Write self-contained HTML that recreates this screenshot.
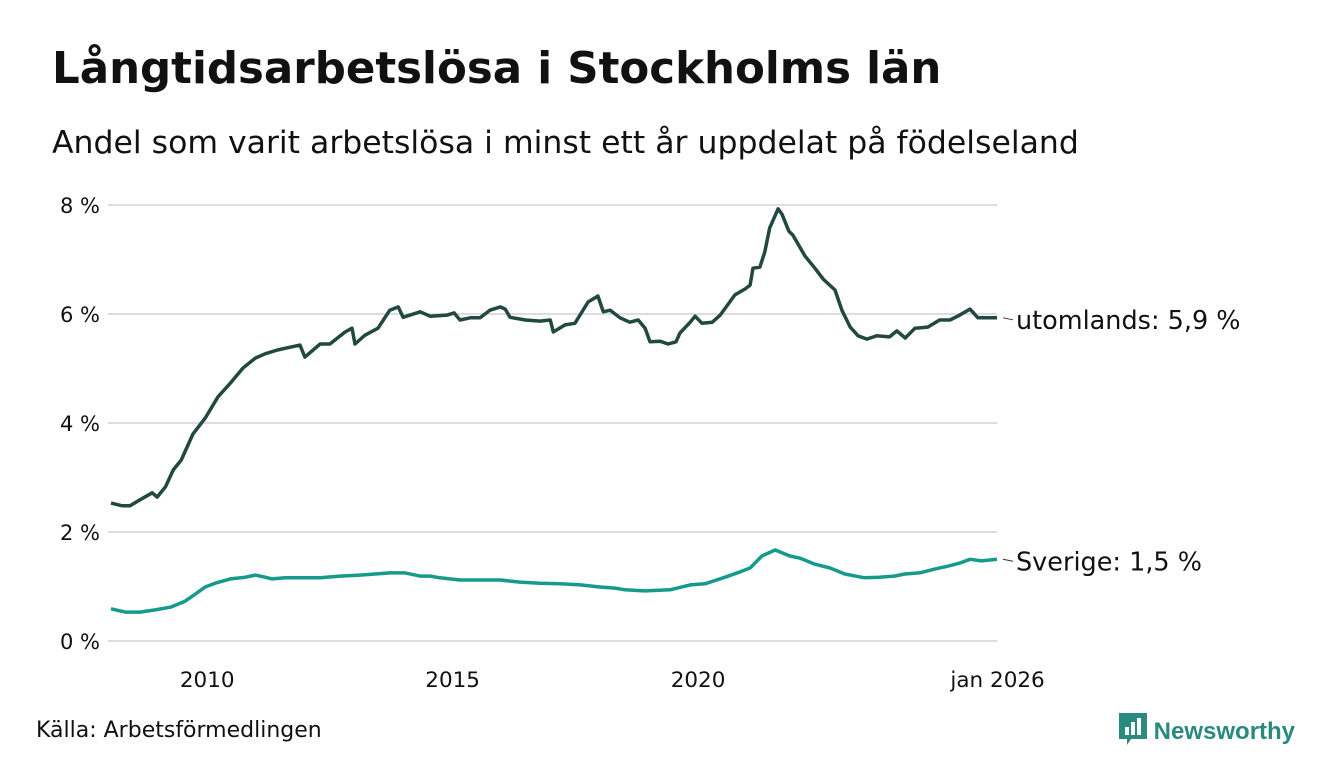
<!DOCTYPE html>
<html><head><meta charset="utf-8"><style>
body{margin:0;width:1340px;height:780px;background:#fff;font-family:"DejaVu Sans","Liberation Sans",sans-serif;overflow:hidden;position:relative}
h1{position:absolute;left:52px;top:44px;margin:0;font-size:43.5px;font-weight:bold;color:#111}
.sub{position:absolute;left:52px;top:125px;font-size:31.5px;color:#111}
.src{position:absolute;left:36px;top:718px;font-size:22px;color:#111}
.logo{position:absolute;left:1119px;top:713px;font-size:24px;font-weight:bold;color:#2a8a7e;font-family:"Liberation Sans",sans-serif}
</style></head><body>
<h1>Långtidsarbetslösa i Stockholms län</h1>
<div class="sub">Andel som varit arbetslösa i minst ett år uppdelat på födelseland</div>
<div class="src">Källa: Arbetsförmedlingen</div>
<div class="logo"><svg width="28" height="32" viewBox="0 0 28 32" style="vertical-align:-6px"><path d="M0 0H28V26H12L8 32V26H0Z" fill="#2a8a7e"/><rect x="6" y="14" width="4" height="8" fill="#fff"/><rect x="12" y="9" width="4" height="13" fill="#fff"/><rect x="18" y="5" width="4" height="17" fill="#fff"/></svg> Newsworthy</div>
<svg id="chart" width="1340" height="780" style="position:absolute;left:0;top:0"></svg>
<script>
const yTicks=[0,2,4,6,8];
const xTicks=[2010,2015,2020,2026];
const xTickLabels=["2010","2015","2020","jan 2026"];
const utDates=[2008.04,2008.27,2008.43,2008.63,2008.88,2008.98,2009.15,2009.31,2009.47,2009.71,2009.96,2010.22,2010.47,2010.73,2010.98,2011.18,2011.43,2011.69,2011.89,2011.99,2012.30,2012.50,2012.81,2012.95,2013.01,2013.21,2013.48,2013.72,2013.89,2013.99,2014.34,2014.54,2014.89,2015.03,2015.15,2015.36,2015.56,2015.76,2015.97,2016.07,2016.17,2016.48,2016.78,2016.99,2017.05,2017.29,2017.49,2017.76,2017.96,2018.07,2018.21,2018.41,2018.61,2018.78,2018.92,2019.02,2019.23,2019.39,2019.55,2019.63,2019.84,2019.94,2020.08,2020.29,2020.45,2020.75,2020.96,2021.06,2021.12,2021.26,2021.36,2021.46,2021.63,2021.71,2021.85,2021.93,2022.18,2022.38,2022.55,2022.79,2022.93,2023.10,2023.26,2023.44,2023.64,2023.90,2024.05,2024.22,2024.42,2024.68,2024.92,2025.13,2025.29,2025.54,2025.70,2025.90,2026.09];
const utValues=[2.53,2.48,2.48,2.59,2.72,2.64,2.83,3.14,3.32,3.80,4.09,4.48,4.73,5.01,5.19,5.27,5.34,5.39,5.43,5.21,5.45,5.45,5.67,5.74,5.45,5.61,5.74,6.07,6.13,5.94,6.04,5.96,5.98,6.02,5.89,5.93,5.93,6.07,6.13,6.09,5.94,5.89,5.87,5.89,5.67,5.80,5.83,6.22,6.33,6.04,6.07,5.93,5.85,5.89,5.74,5.49,5.50,5.45,5.49,5.65,5.85,5.96,5.83,5.85,5.98,6.35,6.46,6.53,6.84,6.86,7.14,7.58,7.93,7.83,7.52,7.45,7.06,6.84,6.64,6.44,6.07,5.76,5.60,5.54,5.60,5.58,5.69,5.56,5.74,5.76,5.89,5.89,5.96,6.09,5.93,5.93,5.93];
const svDates=[2008.04,2008.33,2008.63,2008.94,2009.25,2009.55,2009.76,2009.96,2010.16,2010.47,2010.78,2010.98,2011.18,2011.32,2011.59,2011.89,2012.30,2012.71,2013.11,2013.42,2013.72,2014.03,2014.34,2014.54,2014.74,2015.15,2015.56,2015.97,2016.37,2016.78,2017.19,2017.60,2018.00,2018.31,2018.51,2018.92,2019.43,2019.84,2020.14,2020.55,2020.86,2021.06,2021.30,2021.57,2021.87,2022.08,2022.38,2022.69,2022.99,2023.39,2023.70,2024.00,2024.21,2024.51,2024.82,2025.12,2025.33,2025.54,2025.77,2026.09];
const svValues=[0.59,0.53,0.53,0.57,0.62,0.73,0.86,0.99,1.06,1.14,1.17,1.21,1.17,1.14,1.16,1.16,1.16,1.19,1.21,1.23,1.25,1.25,1.19,1.19,1.16,1.12,1.12,1.12,1.08,1.06,1.05,1.03,0.99,0.97,0.94,0.92,0.94,1.03,1.05,1.17,1.27,1.34,1.56,1.67,1.56,1.52,1.41,1.34,1.23,1.16,1.17,1.19,1.23,1.25,1.32,1.38,1.43,1.50,1.47,1.50];
const NS="http://www.w3.org/2000/svg",svg=document.getElementById('chart');
const x=d=>111+(d-2008.04)*(997-111)/(2026.09-2008.04);
const y=v=>641-v*54.5;
function mk(t,a,p){const e=document.createElementNS(NS,t);for(const k in a)e.setAttribute(k,a[k]);(p||svg).appendChild(e);return e;}
yTicks.forEach(v=>{
 const l=mk('line',{x1:108,x2:997,y1:y(v),y2:y(v),stroke:'#dcdce2','stroke-width':2});
 
 
 const t=mk('text',{x:100,y:y(v)+8,'text-anchor':'end','font-size':21,fill:'#111'});t.textContent=v+' %';
 
 
});
xTicks.forEach((v,i)=>{
 const t=mk('text',{x:x(v)+(i==3?5:0),y:687,'text-anchor':'middle','font-size':21.5,fill:'#111'});t.textContent=xTickLabels[i];
 
 
});
function line(ds,vs,c,name,label){
 const p=mk('path',{d:ds.map((d,i)=>(i?'L':'M')+x(d).toFixed(1)+','+y(vs[i]).toFixed(1)).join(''),fill:'none',stroke:c,'stroke-width':3.5,'stroke-linejoin':'round'});
 
 
 const ly=y(vs[vs.length-1]);
 mk('line',{x1:1003,x2:1013,y1:ly,y2:ly+2,stroke:'#333','stroke-width':1});
 const t=mk('text',{x:1016,y:ly+11,'font-size':25.5,fill:'#111'});t.textContent=label;
 
 
}
line(svDates,svValues,'#169a8b','sverige-line','Sverige: 1,5 %');
line(utDates,utValues,'#21493f','utomlands-line','utomlands: 5,9 %');
</script>
</body></html>
